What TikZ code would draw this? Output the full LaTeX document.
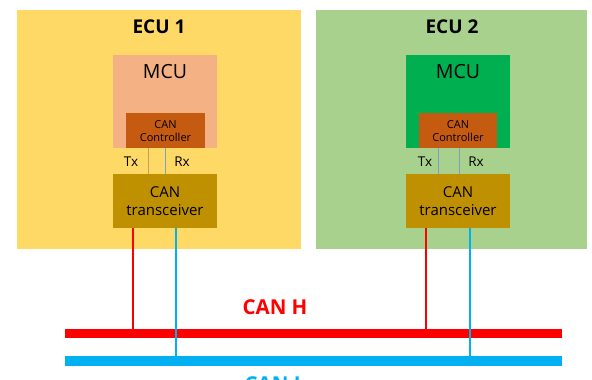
\documentclass[tikz,border=0pt]{standalone}
\usepackage{fontspec}
\setmainfont{Open Sans}
\definecolor{ecuA}{HTML}{FFD966}
\definecolor{ecuB}{HTML}{A9D18E}
\definecolor{mcuA}{HTML}{F4B183}
\definecolor{mcuB}{HTML}{00B050}
\definecolor{ctrlc}{HTML}{C55A11}
\definecolor{trxc}{HTML}{BF9000}
\definecolor{canl}{HTML}{00B0F0}
\definecolor{canh}{HTML}{FF0000}
\definecolor{sigA}{HTML}{BFA060}
\definecolor{sigB}{HTML}{7F9FC0}
\begin{document}
\begin{tikzpicture}[x=1pt,y=-1pt,
  box/.style={draw=none,inner sep=0pt,anchor=north west},
  lbl/.style={inner sep=0pt,anchor=center},
  busline/.style={draw=none,inner sep=0pt,anchor=north west}]
\useasboundingbox (0,0) rectangle (592,380);
\begin{scope}
\clip (0,0) rectangle (592,380);
% ECUs
\node[box,fill=ecuA,minimum width=284pt,minimum height=239pt] (ecu1) at (17,10) {};
\node[box,fill=ecuB,minimum width=271pt,minimum height=239pt] (ecu2) at (316,10) {};
\node[lbl,font=\fontsize{19}{19}\selectfont\bfseries] (t1) at (159,27) {ECU 1};
\node[lbl,font=\fontsize{19}{19}\selectfont\bfseries] (t2) at (452,27) {ECU 2};
% MCUs
\node[box,fill=mcuA,minimum width=104pt,minimum height=93pt] (mcu1) at (113,55) {};
\node[box,fill=mcuB,minimum width=104pt,minimum height=93pt] (mcu2) at (406,55) {};
\node[lbl,font=\fontsize{19.5}{19.5}\selectfont] (m1) at (165,72) {MCU};
\node[lbl,font=\fontsize{19.5}{19.5}\selectfont] (m2) at (458,72) {MCU};
% Controllers
\node[box,fill=ctrlc,minimum width=79pt,minimum height=35pt] (ctrl1) at (126,113) {};
\node[box,fill=ctrlc,minimum width=78pt,minimum height=35pt] (ctrl2) at (419,113) {};
\node[lbl,font=\fontsize{11}{13}\selectfont,align=center] (c1) at (165.5,131) {CAN\\Controller};
\node[lbl,font=\fontsize{11}{13}\selectfont,align=center] (c2) at (458,131) {CAN\\Controller};
% Transceivers
\node[box,fill=trxc,minimum width=104pt,minimum height=54pt] (trx1) at (113,174) {};
\node[box,fill=trxc,minimum width=104pt,minimum height=54pt] (trx2) at (406,174) {};
\node[lbl,font=\fontsize{15}{18}\selectfont,align=center] (r1) at (165,201) {CAN\\transceiver};
\node[lbl,font=\fontsize{15}{18}\selectfont,align=center] (r2) at (458,201) {CAN\\transceiver};
% Tx/Rx labels
\node[lbl,font=\fontsize{13.5}{13.5}\selectfont] (tx1) at (131,162) {Tx};
\node[lbl,font=\fontsize{13.5}{13.5}\selectfont] (rx1) at (182,162) {Rx};
\node[lbl,font=\fontsize{13.5}{13.5}\selectfont] (tx2) at (425,162) {Tx};
\node[lbl,font=\fontsize{13.5}{13.5}\selectfont] (rx2) at (476,162) {Rx};
% signal coordinates
\coordinate (ax1) at (148,0);
\coordinate (ax2) at (165,0);
\coordinate (bx1) at (438,0);
\coordinate (bx2) at (459,0);
\draw[sigA,line width=1pt] (ctrl1.south -| ax1) -- (trx1.north -| ax1);
\draw[sigB,line width=1pt] (ctrl1.south -| ax2) -- (trx1.north -| ax2);
\draw[sigB,line width=1pt] (ctrl2.south -| bx1) -- (trx2.north -| bx1);
\draw[sigB,line width=1pt] (ctrl2.south -| bx2) -- (trx2.north -| bx2);
% buses
\node[busline,fill=canh,minimum width=497pt,minimum height=9pt] (hbus) at (65,328.5) {};
\node[busline,fill=canl,minimum width=497pt,minimum height=9.5pt] (lbus) at (65,356) {};
\node[lbl,font=\fontsize{20.5}{20.5}\selectfont\bfseries,text=canh] (hl) at (275,307.5) {CAN H};
\node[lbl,font=\fontsize{20.5}{20.5}\selectfont\bfseries,text=canl] (ll) at (275,384.5) {CAN L};
% drops
\coordinate (h1) at (133,0);
\coordinate (l1) at (176,0);
\coordinate (h2) at (426,0);
\coordinate (l2) at (469.5,0);
\draw[canh,line width=2pt] (trx1.south -| h1) -- (hbus.north -| h1);
\draw[canh,line width=2pt] (trx2.south -| h2) -- (hbus.north -| h2);
\draw[canl,line width=2pt] (trx1.south -| l1) -- (lbus.north -| l1);
\draw[canl,line width=2pt] (trx2.south -| l2) -- (lbus.north -| l2);
\end{scope}
\end{tikzpicture}
\end{document}
